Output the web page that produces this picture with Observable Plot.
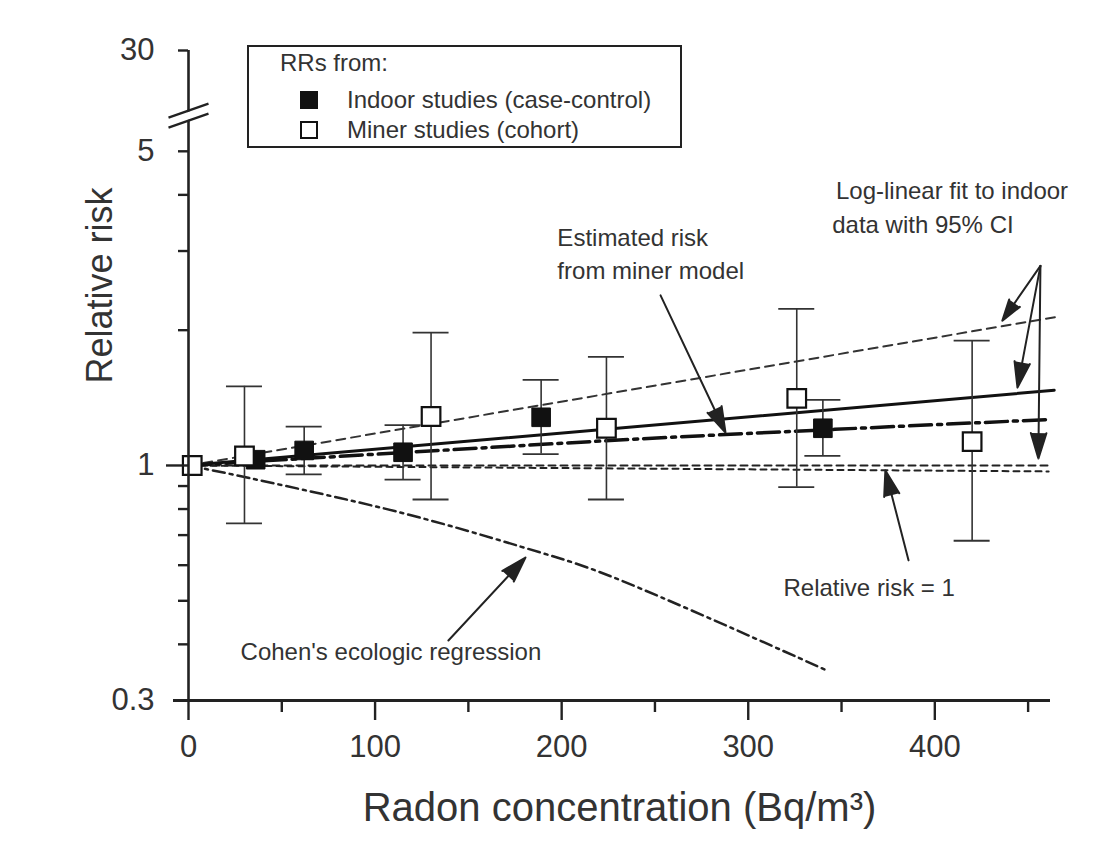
<!DOCTYPE html>
<html>
<head>
<meta charset="utf-8">
<script src="https://cdn.jsdelivr.net/npm/d3@7"></script>
<script src="https://cdn.jsdelivr.net/npm/@observablehq/plot@0.6"></script>
<style>
  body { margin: 0; background: #fff; font-family: "Liberation Sans", Arial, sans-serif; }
  #wrap { position: relative; width: 1105px; height: 843px; }
  #legend { position: absolute; left: 247px; top: 45px; width: 431px; height: 99px;
            border: 2px solid #222; background: #fff; color: #333; font-size: 24px; }
  #legend .t { position: absolute; white-space: nowrap; line-height: 28px; }
  #legend .sw { position: absolute; width: 18px; height: 18px; box-sizing: border-box; }
</style>
</head>
<body>
<div id="wrap">
  <div id="chart"></div>
  <div id="legend"></div>
</div>
<script>
// ---- Data ----
// Indoor studies (case-control): radon (Bq/m3), RR, 95% CI
const indoorX  = [36, 62, 115, 189, 340];
const indoorRR = [1.03, 1.08, 1.07, 1.28, 1.21];
const indoorLo = [null, 0.955, 0.93, 1.06, 1.05];
const indoorHi = [null, 1.22, 1.23, 1.55, 1.40];

// Miner studies (cohort)
const minerX  = [2, 30, 130, 224, 326, 420];
const minerRR = [1.0, 1.05, 1.285, 1.21, 1.41, 1.13];
const minerLo = [null, 0.743, 0.84, 0.84, 0.895, 0.68];
const minerHi = [null, 1.50, 1.975, 1.745, 2.23, 1.895];

// Log-linear fit to indoor data with 95% CI
const fitX = [0, 464];
const fitY = [1, 1.47];
const fitUpperX = [0, 465];
const fitUpperY = [1, 2.14];
const fitLowerX = [0, 461];
const fitLowerY = [1, 0.97];

// Relative risk = 1 reference
const refX = [0, 462];
const refY = [1, 1];

// Estimated risk from miner model
const minerModelX = [0, 134, 258, 460];
const minerModelY = [1, 1.08, 1.155, 1.265];

// Cohen's ecologic regression
const cohenX = [0, 34, 114, 178, 221, 342];
const cohenY = [1, 0.935, 0.785, 0.66, 0.578, 0.35];

// Axis ticks
const xMajorTicks = [0, 100, 200, 300, 400];
const xMinorTicks = [50, 150, 250, 350, 450];
const yTop = 8.38;            // top of the (broken) axis
const yBreak = 6.0;           // where the axis break is drawn
const yLongTicks = [1];
const yShortTicks = [0.3, 5, yTop];
const yMinorTicks = [0.4, 0.5, 0.6, 0.7, 0.8, 0.9, 2, 3, 4];
const yTickValues = [0.3, 1, 5, yTop];
const yTickLabels = ["0.3", "1", "5", "30"];

// Legend
const legendTitle = "RRs from:";
const legendNames = ["Indoor studies (case-control)", "Miner studies (cohort)"];

// Annotations (anchor positions in data units)
const noteText = ["Log-linear fit to indoor", "data with 95% CI", "Estimated risk", "from miner model",
                  "Relative risk = 1", "Cohen's ecologic regression"];
const noteX = [347, 345, 197.7, 197.7, 318.9, 27.9];
const noteY = [4.08, 3.43, 3.21, 2.71, 0.533, 0.384];

const arrowX1 = [456.6, 456.6, 456.6, 253, 385.9, 139.3];
const arrowY1 = [2.78, 2.78, 2.78, 2.39, 0.615, 0.408];
const arrowX2 = [436.2, 444.3, 455.5, 287.8, 373.5, 180.6];
const arrowY2 = [2.10, 1.49, 1.036, 1.184, 0.975, 0.624];

// ---- Build tables ----
const indoor = indoorX.map((x, i) => ({x, rr: indoorRR[i], lo: indoorLo[i], hi: indoorHi[i]}));
const miner = minerX.map((x, i) => ({x, rr: minerRR[i], lo: minerLo[i], hi: minerHi[i]}));
const bars = [...miner, ...indoor].filter(d => d.lo != null);
const notes = noteText.map((t, i) => ({t, x: noteX[i], y: noteY[i]}));
const arrows = arrowX1.map((x1, i) => ({x1, y1: arrowY1[i], x2: arrowX2[i], y2: arrowY2[i]}));
const yLabels = yTickValues.map((v, i) => ({v, t: yTickLabels[i]}));

const INK = "#222";
const TXT = "#333";

const breakLines = {draw(ctx) { ctx.moveTo(-20, 2); ctx.lineTo(20, -12); ctx.moveTo(-20, 12); ctx.lineTo(20, -2); }};
const breakGap = {draw(ctx) { ctx.moveTo(-20, 3); ctx.lineTo(20, -11); ctx.lineTo(20, -3); ctx.lineTo(-20, 11); ctx.closePath(); }};

const chart = Plot.plot({
  width: 1105,
  height: 843,
  marginLeft: 188,
  marginRight: 55,
  marginTop: 50,
  marginBottom: 143,
  style: {fontFamily: "'Liberation Sans', Arial, sans-serif", background: "#fff", color: INK},
  x: {domain: [0, 462]},
  y: {type: "log", domain: [0.3, yTop]},
  marks: [
    // reference and fitted lines
    Plot.line(refX, {x: refX, y: refY, stroke: INK, strokeWidth: 2, strokeDasharray: "7,5"}),
    Plot.line(fitLowerX, {x: fitLowerX, y: fitLowerY, stroke: INK, strokeWidth: 2, strokeDasharray: "6,5"}),
    Plot.line(fitUpperX, {x: fitUpperX, y: fitUpperY, stroke: "#333", strokeWidth: 2, strokeDasharray: "9,6"}),
    Plot.line(fitX, {x: fitX, y: fitY, stroke: "#111", strokeWidth: 3}),
    Plot.line(minerModelX, {x: minerModelX, y: minerModelY, curve: "catmull-rom", stroke: "#111", strokeWidth: 3.5, strokeDasharray: "22,6,4,6"}),
    Plot.line(cohenX, {x: cohenX, y: cohenY, curve: "catmull-rom", stroke: INK, strokeWidth: 2.5, strokeDasharray: "12,5,3,5"}),

    // error bars
    Plot.ruleX(bars, {x: "x", y1: "lo", y2: "hi", stroke: "#333", strokeWidth: 1.6}),
    Plot.ruleY(bars, {x1: "x", x2: "x", y: "hi", insetLeft: -18, insetRight: -18, stroke: "#333", strokeWidth: 1.8}),
    Plot.ruleY(bars, {x1: "x", x2: "x", y: "lo", insetLeft: -18, insetRight: -18, stroke: "#333", strokeWidth: 1.8}),

    // markers
    Plot.dot(indoor, {x: "x", y: "rr", symbol: "square", r: 10.5, fill: "#111", stroke: "#111", strokeWidth: 1}),
    Plot.dot(miner, {x: "x", y: "rr", symbol: "square", r: 10.5, fill: "#fff", stroke: "#111", strokeWidth: 2.2}),

    // axes
    Plot.ruleY([0.3], {x1: 0, x2: 462, insetLeft: -15, stroke: INK, strokeWidth: 3}),
    Plot.ruleX([0], {y1: 0.3, y2: yTop, stroke: INK, strokeWidth: 2.6}),
    Plot.axisX({ticks: xMajorTicks, tickSize: 20, tickPadding: 14, fontSize: 31, strokeWidth: 2.4, stroke: INK, fill: TXT, label: null}),
    Plot.axisX({ticks: xMinorTicks, tickSize: 12, tickFormat: () => "", strokeWidth: 2.4, stroke: INK, label: null}),
    Plot.axisY({ticks: yLongTicks, tickSize: 22, tickFormat: () => "", strokeWidth: 2.4, stroke: INK, label: null}),
    Plot.axisY({ticks: yShortTicks, tickSize: 10, tickFormat: () => "", strokeWidth: 2.4, stroke: INK, label: null}),
    Plot.axisY({ticks: yMinorTicks, tickSize: 10, tickFormat: () => "", strokeWidth: 2.4, stroke: INK, label: null}),
    Plot.text(yLabels, {y: "v", text: "t", frameAnchor: "left", textAnchor: "end", dx: -34, fontSize: 31, fill: TXT}),

    // axis break
    Plot.dot([yBreak], {x: () => 0, y: d => d, symbol: breakGap, fill: "#fff", stroke: "none"}),
    Plot.dot([yBreak], {x: () => 0, y: d => d, symbol: breakLines, fill: "none", stroke: INK, strokeWidth: 2.4}),

    // annotations
    Plot.arrow(arrows, {x1: "x1", y1: "y1", x2: "x2", y2: "y2", headLength: 20, headAngle: 34,
                        stroke: INK, fill: INK, strokeWidth: 2}),
    Plot.text(notes, {x: "x", y: "y", text: "t", textAnchor: "start", fontSize: 24, fill: TXT}),

    // axis titles
    Plot.text(["Relative risk"], {frameAnchor: "left", rotate: -90, dx: -88, dy: 8, fontSize: 36, fill: TXT}),
    Plot.text(["Radon concentration (Bq/m³)"], {frameAnchor: "bottom", dy: 120, dx: 0, fontSize: 40, fill: TXT})
  ]
});
document.getElementById("chart").appendChild(chart);

// legend
const lg = document.getElementById("legend");
const title = document.createElement("div");
title.className = "t"; title.textContent = legendTitle;
title.style.left = "31px"; title.style.top = "2px";
lg.appendChild(title);
legendNames.forEach((name, i) => {
  const top = 53 + i * 30;
  const sw = document.createElement("div");
  sw.className = "sw";
  sw.style.left = "51px"; sw.style.top = (top - 9) + "px";
  sw.style.background = i === 0 ? "#111" : "#fff";
  sw.style.border = "2px solid #111";
  lg.appendChild(sw);
  const t = document.createElement("div");
  t.className = "t"; t.textContent = name;
  t.style.left = "98px"; t.style.top = (top - 14) + "px";
  lg.appendChild(t);
});
</script>
</body>
</html>
